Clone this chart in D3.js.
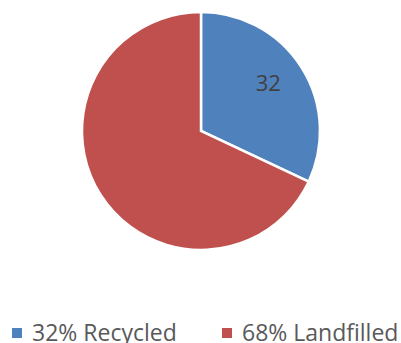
<!DOCTYPE html>
<html>
<head>
<meta charset="utf-8">
<script src="https://cdn.jsdelivr.net/npm/d3@7"></script>
<style>
  body { margin: 0; background: #fff; }
  svg { display: block; }
</style>
</head>
<body>
<svg id="chart" width="401" height="343"></svg>
<script>
var categories = ["Recycled", "Landfilled"]
var values = [32, 68]
var legendLabels = ["32% Recycled", "68% Landfilled"]
var colors = ["#4F81BD", "#C0504D"]

var svg = d3.select("#chart")
var cx = 201, cy = 131, radius = 119

var pie = d3.pie().sort(null).value(function(d) { return d })
var arc = d3.arc().innerRadius(0).outerRadius(radius)
var labelArc = d3.arc().innerRadius(radius * 0.7).outerRadius(radius * 0.7)

var g = svg.append("g").attr("transform", "translate(" + cx + "," + cy + ")")

var slices = pie(values)

g.selectAll("path")
  .data(slices)
  .enter()
  .append("path")
  .attr("d", arc)
  .attr("fill", function(d, i) { return colors[i] })
  .attr("stroke", "#fff")
  .attr("stroke-width", 2.5)
  .attr("stroke-linejoin", "miter")

// only the first slice carries a data label in the original
var c = labelArc.centroid(slices[0])
g.append("text")
  .attr("x", c[0] - 3)
  .attr("y", c[1] - 4)
  .attr("text-anchor", "middle")
  .attr("dominant-baseline", "central")
  .attr("font-family", "'Open Sans', sans-serif")
  .attr("font-size", 22)
  .attr("fill", "#404040")
  .text(values[0])

var legendX = [12, 222]
var legend = svg.selectAll("g.legend")
  .data(categories)
  .enter()
  .append("g")
  .attr("class", "legend")
  .attr("transform", function(d, i) { return "translate(" + legendX[i] + ",333)" })

legend.append("rect")
  .attr("x", 0)
  .attr("y", -5)
  .attr("width", 10)
  .attr("height", 10)
  .attr("fill", function(d, i) { return colors[i] })

legend.append("text")
  .attr("x", 20)
  .attr("y", 8)
  .attr("font-family", "'Open Sans', sans-serif")
  .attr("font-size", 23)
  .attr("fill", "#595959")
  .text(function(d, i) { return legendLabels[i] })
</script>
</body>
</html>
